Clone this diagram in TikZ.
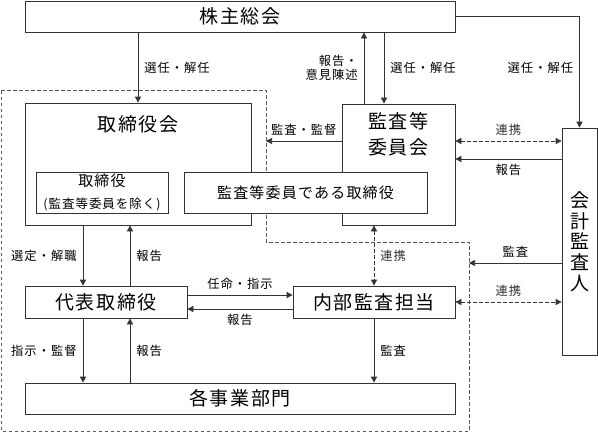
\documentclass[tikz,border=0pt]{standalone}
\usepackage{fontspec}
\setmainfont{Noto Sans CJK JP}[LetterSpace=8]
\usepackage{tikz}
\usetikzlibrary{positioning}
\usetikzlibrary{arrows.meta}

\tikzset{
    box/.style={draw=black!80, line width=0.7pt, fill=white, inner sep=0pt,
        font=\fontsize{19}{22}\selectfont},
    lbl/.style={font=\fontsize{12.3}{14.5}\selectfont, inner xsep=6pt, inner ysep=5pt},
    link/.style={black!80, dash pattern=on 3.5pt off 2.5pt,
        {Triangle[length=6pt,width=6pt]}-{Triangle[length=6pt,width=6pt]}},
    zone/.style={black!65, line width=0.7pt, dash pattern=on 3.5pt off 2.5pt},
}

\begin{document}
\begin{tikzpicture}[x=1pt, y=-1pt, line width=0.7pt, draw=black!80,
    >={Triangle[length=6pt,width=6pt]}]
    \useasboundingbox (0,0) rectangle (598,432);

    % dashed area
    \coordinate(zone-in) at (266,242);
    \coordinate(auditpt) at (469,263);
    \draw[zone] (1,90) -- (266,90) -- (zone-in) -- (469,242) -- (469,431) -- (1,431) -- cycle;

    \node(agm) [box, minimum width=430pt, minimum height=31pt] at (240,16.5) {株主総会};
    \node(board) [box, minimum width=226pt, minimum height=122pt] at (138,164) {};
    \node(boardtitle) [font=\fontsize{19}{22}\selectfont] at (138,124) {取締役会};
    \node(ac) [box, minimum width=113pt, minimum height=121pt] at (398.5,164.5) {};
    \node(actitle) [font=\fontsize{19}{26}\selectfont, align=center] at (398.5,134) {監査等\\委員会};
    \node(dirs) [box, minimum width=132pt, minimum height=41pt, align=center]
        at (102,192.5) {{\fontsize{15}{19}\selectfont 取締役}\\{\fontsize{12.5}{16}\selectfont (監査等委員を除く)}};
    \node(acdirs) [box, minimum width=243pt, minimum height=41pt, font=\fontsize{15}{18}\selectfont]
        at (305.5,192.5) {監査等委員である取締役};
    \node(auditor) [box, minimum width=35pt, minimum height=227pt, align=center,
        font=\fontsize{19}{20.6}\selectfont] at (579.5,241.5) {会\\計\\監\\査\\人};
    \node(rep) [box, minimum width=162pt, minimum height=32pt] at (106,302) {代表取締役};
    \node(iad) [box, minimum width=162pt, minimum height=32pt] at (374,302) {内部監査担当};
    \node(biz) [box, minimum width=430pt, minimum height=31pt] at (240,398.5) {各事業部門};

    % shareholders
    \draw[->] (agm.south -| board.north) -- node[lbl, right] {選任・解任} (board.north);
    \draw[->] ([xshift=-34.5pt]ac.north) -- node[lbl, left, align=right] {報告・\\意見陳述} ([xshift=-34.5pt]ac.north |- agm.south);
    \draw[->] ([xshift=-14.5pt]ac.north |- agm.south) -- node[lbl, right] {選任・解任} ([xshift=-14.5pt]ac.north);
    \draw[->] (agm.east) -| node[lbl, left, pos=0.73] {選任・解任} (auditor.north);

    % audit committee
    \draw[->] ([yshift=23.5pt]ac.west) -- node[lbl, above] {監査・監督} ([yshift=23.5pt]ac.west -| zone-in);
    \draw[link] ([yshift=23.5pt]ac.east) -- node[lbl, above] {連携} ([yshift=23.5pt]ac.east -| auditor.west);
    \draw[->] ([yshift=5.5pt]ac.east -| auditor.west) -- node[lbl, below] {報告} ([yshift=5.5pt]ac.east);
    \draw[link] (iad.north |- ac.south) -- node[lbl, right] {連携} (iad.north);

    % accounting auditor
    \draw[->] (auditor.west |- auditpt) -- node[lbl, above] {監査} (auditpt);
    \draw[link] (iad.east) -- node[lbl, above] {連携} (iad.east -| auditor.west);

    % board and representative
    \draw[->] ([xshift=-23pt]rep.north |- board.south) -- node[lbl, left] {選定・解職} ([xshift=-23pt]rep.north);
    \draw[->] ([xshift=24pt]rep.north) -- node[lbl, right] {報告} ([xshift=24pt]rep.north |- board.south);
    \draw[->] ([yshift=7pt]rep.east) -- node[lbl, above] {任命・指示} ([yshift=7pt]rep.east -| iad.west);
    \draw[->] ([yshift=-7pt]iad.west) -- node[lbl, below] {報告} ([yshift=-7pt]iad.west -| rep.east);

    % business divisions
    \draw[->] ([xshift=-23pt]rep.south) -- node[lbl, left] {指示・監督} ([xshift=-23pt]rep.south |- biz.north);
    \draw[->] ([xshift=24pt]rep.south |- biz.north) -- node[lbl, right] {報告} ([xshift=24pt]rep.south);
    \draw[->] (iad.south) -- node[lbl, right] {監査} (iad.south |- biz.north);
\end{tikzpicture}
\end{document}
